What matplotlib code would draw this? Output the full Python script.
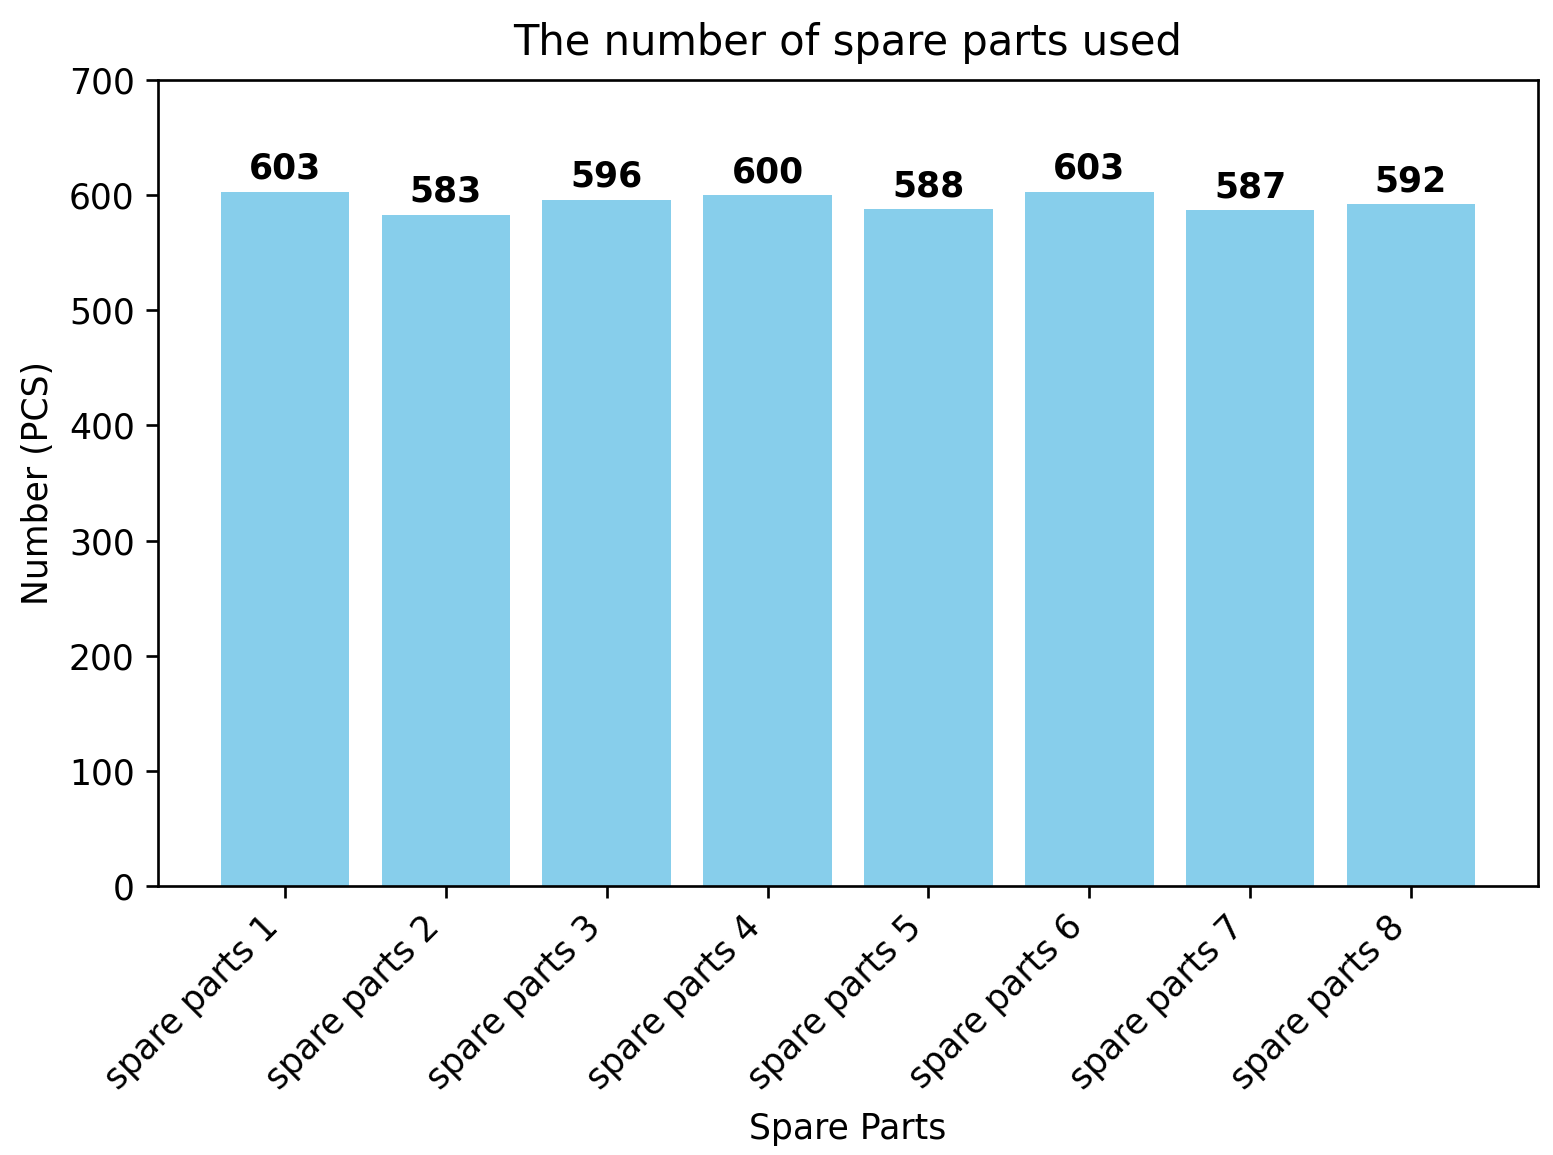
import numpy as np
import matplotlib
matplotlib.use('Agg')
import matplotlib.pyplot as plt

# data
categories = ['spare parts %d' % i for i in range(1, 9)]
counts = [603, 583, 596, 600, 588, 603, 587, 592]

plt.rcParams['font.size'] = 10.4

fig = plt.figure(figsize=(1553 / 240, 1155 / 240), dpi=240)
ax = fig.add_axes([158 / 1553, 1 - 886 / 1155, (1538 - 158) / 1553, (886 - 80) / 1155])

x = np.arange(len(categories))
bars = ax.bar(x, counts, color='skyblue', width=0.8)

for b, v in zip(bars, counts):
    ax.text(b.get_x() + b.get_width() / 2, v + 5, str(v),
            ha='center', va='bottom', fontweight='bold')

ax.set_xticks(x)
ax.set_xticklabels(categories, rotation=45, ha='right')
ax.set_ylim(0, 700)
ax.set_title('The number of spare parts used', pad=7.5)
ax.set_xlabel('Spare Parts', labelpad=5)
ax.set_ylabel('Number (PCS)')

fig.savefig('out.png', dpi=240)
